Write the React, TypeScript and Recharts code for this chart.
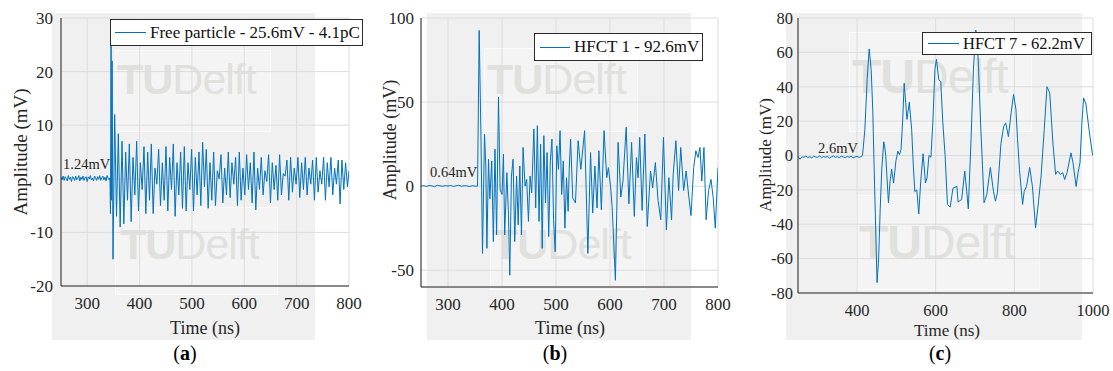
import { LineChart, Line, XAxis, YAxis, CartesianGrid } from "recharts"

// ---------- data ----------

// (a) free particle
const aXTicks = [300, 400, 500, 600, 700, 800]
const aYTicks = [-20, -10, 0, 10, 20, 30]
// background noise before the pulse, one sample every 2 ns from 250 ns
const aBaseline = [
  0.3, -0.2, 0.5, -0.3, 0.4, 0.1, -0.4, 0.6, -0.1, 0.3,
  -0.5, 0.4, 0.2, -0.3, 0.5, -0.2, 0.1, 0.6, -0.4, 0.3,
  -0.1, 0.5, -0.3, 0.2, 0.4, -0.5, 0.3, 0.0, 0.6, -0.2,
  0.1, -0.4, 0.5, 0.2, -0.3, 0.4, -0.1, 0.6, -0.3, 0.2,
  0.5, -0.2, 0.3, -0.4, 0.6, 0.1, -0.2,
]
const aOnset: [number, number][] = [
  [343.5, 0.2], [344.5, -6.5], [345.6, 25.6], [346.6, -4], [347.6, 22], [349.3, -15],
]
// ringing after the pulse, one extreme every 3.5 ns from 352.5 ns
const aRinging = [
  12, -7, 8.4, -9, 7, -8.4, 5, -4, 6.5, -8,
  4, -3, 7, -6, 3, -2, 6, -6.5, 5, -4,
  6.5, -6.5, 2, -1, 5.5, -5, 3, -4, 6, -6,
  4, -2, 6.5, -7, 3, -3, 5, -5.5, 6, -6,
  3, -2, 5.5, -6, 4, -3, 5, -5, 6.8, -1.5,
  5.5, -5.5, 3, -4, 5, -5, 1.5, 0, 4.5, -4.5,
  2, -3, 5, -3.5, 3, -1, 4, -5, 5, -4,
  2, -3, 4.5, -2, 3, -4.5, 5, -5.8, 2, -2,
  4, -3, 1.5, -0.5, 4.5, -4.5, 3, -2, 2.5, -4,
  4.5, -3, 1, 0.5, 3.5, -4, 4, -2.5, 2, -1,
  4, -3.5, 3, -2, 4, -3, 2, -1, 3.5, -4,
  4, -2.5, 1.5, -1, 4, -4, 3, -1.5, 4, -3,
  2, -1, 3.5, -4.7, 3.5, -2, 3, -1.5,
]
const aTail: [number, number][] = [[800, 1.5]]

// (b) HFCT 1
const bXTicks = [300, 400, 500, 600, 700, 800]
const bYTicks = [-50, 0, 50, 100]
// one sample every 5 ns from 250 ns
const bBaseline = [0, 0.3, -0.2, 0.4, 0.1, -0.3, 0.5, 0.2, -0.1, 0.3, 0, 0.4, -0.2, 0.2, 0.5, -0.1, 0.3, 0.1, -0.2, 0.2, 0]
const bBurst: [number, number][] = [
  [354.7, 0], [357.7, 92.6], [361, 30], [363.9, -40], [367.6, 31], [370, 12], [372, -37],
  [375, 16], [377.5, -7.5], [381, 15], [384, -33], [387, 22], [390, -29], [393.5, 53],
  [396.5, -2], [400, -5], [402.7, 19], [405, -29], [409, 8], [412, -17], [414.4, -53],
  [417.5, 6], [420.5, 16], [423.6, -33], [427, 6], [430, -23], [433, 12], [436, -29],
  [439, 23], [442.7, 0], [445.7, 4], [449, -21], [452, 6], [455, -4], [459, 34],
  [462.4, -13], [465.5, 36], [468.6, -21], [471.5, 25], [474.5, -37], [477.5, 30],
  [480.5, -10], [483.5, 20], [486.5, -30], [489.5, 15], [492.5, 28], [495.5, -20],
  [498.5, -39], [501.5, 24], [504.5, 10], [507.5, 33], [510.5, -5], [513.5, 15],
  [516.5, -25], [519.5, 5], [522.5, -15], [524.5, 10], [527, 28], [531, -7], [536, -10],
  [541, 27], [546, 10], [553, 33], [559, -40], [564, 20], [568, -16], [572, 12],
  [576, -13], [579.4, 21], [584, -14], [589, 33], [594, 5], [597, 11], [601, 0],
  [604, -12.5], [610, -56], [615, 26], [620, -6.5], [624, 3], [630, 35], [635, -10.5],
  [640, 26], [645, -18], [649, 17], [652, 5], [655, 29], [659.5, -14.5], [664.5, 31],
  [669, -24], [675, 9], [679, -1], [684, 14], [689, -8.5], [694, -20], [699, 29],
  [704.4, -26], [709, 5], [714, -20], [717, 7], [722, 27], [727, -2.6], [731, 23],
  [736.4, -2.6], [741, 9], [746, -6.5], [750, -17.5], [755, 11], [759, 21], [763, 17],
  [766.6, 23], [770, 3], [774, 23], [778, -20], [782.6, -2.6], [787, 4], [791, -6.5],
  [795, -25], [800, 11],
]

// (c) HFCT 7
const cXTicks = [400, 600, 800, 1000]
const cYTicks = [-80, -60, -40, -20, 0, 20, 40, 60, 80]
// one sample every 5 ns from 250 ns
const cBaseline = [
  -0.5, -2.2, -0.8, -1, -0.3, -1.2, -0.7, -1.4, -0.4, -0.9, -1.1,
  -0.2, -1.3, -0.6, -1, -0.5, -1.5, -0.8, -0.3, -1.1, -0.7, -1.3,
  -0.4, -0.9, -1.2, -0.6, -1, -0.3, -1.4, -0.8, -0.5, -1.1, -0.7,
]
const cBurst: [number, number][] = [
  [414, 0], [420, 15], [426, 45], [431, 62], [436, 50], [440, 27], [445, -20], [451, -74],
  [455, -60], [459, -31], [463, -8], [468, 8], [470, 6], [473, 0], [480, -27.5], [484, -15],
  [488, -8], [493, -16], [499, -3], [504, 2.5], [508, 0.5], [512, 3.5], [516, 20], [520, 42],
  [524, 30], [527, 21], [533, 31], [539, 15], [543, -5], [547, -21], [552, -20], [557, -34],
  [562, -15], [568, 1], [574, -16], [578, -13], [583, 0], [588, -1], [593, 20], [598, 50],
  [602, 56], [608, 44], [613, 43], [618, 20], [624, 0], [630, -28.5], [637, -30], [644, -19],
  [654, -18], [657, -27], [666, -25.6], [674, -9], [683, -31], [690, 10], [696, 50], [702, 73],
  [706, 65], [709, 51], [714, 20], [719, -6], [723, -27.5], [730, -22.7], [739, -7], [747, -21],
  [752, -26.6], [757, -21.7], [766, 7], [773, 17], [778, 19], [785, 11], [792, 25], [798, 35.5],
  [804, 27], [808, 10], [813, -8], [821, -28.5], [825, -21], [831, -18], [839, -7], [846, -18],
  [854, -42], [860, -30], [868, -12], [876, 15], [883, 40], [890, 36.5], [898, 7.4], [905, -11],
  [910, -9], [917, -11], [923, -10], [928, -14], [934, -10], [944, 1.5], [949, -4], [957, -18],
  [962, -10], [967, -4], [972, 20], [976, 33.5], [982, 30], [990, 15], [999, 0],
]

// ---------- build series ----------

type Pt = { t: number; v: number }

const uniform = (vals: number[], start: number, step: number): Pt[] =>
  vals.map((v, i) => ({ t: start + i * step, v }))
const pairs = (list: [number, number][]): Pt[] => list.map(([t, v]) => ({ t, v }))

const aData = [...uniform(aBaseline, 250, 2), ...pairs(aOnset), ...uniform(aRinging, 352.5, 3.5), ...pairs(aTail)]
const bData = [...uniform(bBaseline, 250, 5), ...pairs(bBurst)]
const cData = [...uniform(cBaseline, 250, 5), ...pairs(cBurst)]

// ---------- styling ----------

const SERIF = '"Liberation Serif", "Times New Roman", serif'
const SANS = '"Liberation Sans", Arial, sans-serif'
const BLUE = "#0072BD"
const INK = "#262626"

type PanelProps = {
  data: Pt[]
  left: number
  plotRight: number
  yAxisWidth: number
  xAxisHeight: number
  xDomain: [number, number]
  yDomain: [number, number]
  xTicks: number[]
  yTicks: number[]
  yTickMargin: number
  fontSize: number
}

function Panel(p: PanelProps) {
  const rightPad = 22
  return (
    <div style={{ position: "absolute", left: p.left, top: 0 }}>
      <LineChart
        width={p.plotRight - p.left + rightPad}
        height={340}
        data={p.data}
        margin={{ top: 18, right: rightPad, bottom: 0, left: 0 }}
      >
        <CartesianGrid stroke="#dcdcdc" strokeWidth={1} />
        <XAxis
          dataKey="t"
          type="number"
          domain={p.xDomain}
          ticks={p.xTicks}
          interval={0}
          allowDataOverflow
          height={p.xAxisHeight}
          tickLine={false}
          tickSize={0}
          tickMargin={11}
          axisLine={{ stroke: INK }}
          tick={{ fill: INK, fontSize: p.fontSize, fontFamily: SERIF }}
        />
        <YAxis
          type="number"
          domain={p.yDomain}
          ticks={p.yTicks}
          interval={0}
          allowDataOverflow
          width={p.yAxisWidth}
          tickLine={false}
          tickSize={0}
          tickMargin={p.yTickMargin}
          axisLine={{ stroke: INK }}
          tick={{ fill: INK, fontSize: p.fontSize, fontFamily: SERIF }}
        />
        <Line
          type="linear"
          dataKey="v"
          stroke={BLUE}
          strokeWidth={1}
          dot={false}
          isAnimationActive={false}
        />
      </LineChart>
    </div>
  )
}

function Watermark({ x, baseline, size }: { x: number; baseline: number; size: number }) {
  return (
    <div
      style={{
        position: "absolute",
        left: x,
        top: baseline - 0.85 * size,
        fontFamily: SANS,
        fontSize: size,
        lineHeight: 1,
        color: "#e0e0dc",
        whiteSpace: "nowrap",
        letterSpacing: -1,
      }}
    >
      <span style={{ fontWeight: 700 }}>TU</span>
      <span>Delft</span>
    </div>
  )
}

function LegendBox(props: {
  x: number
  y: number
  w: number
  h: number
  lineGap: number
  lineW: number
  size: number
  label: string
}) {
  return (
    <div
      style={{
        position: "absolute",
        left: props.x,
        top: props.y,
        width: props.w,
        height: props.h,
        boxSizing: "border-box",
        border: "1px solid #2b2b2b",
        background: "#ffffff",
        display: "flex",
        alignItems: "center",
        fontFamily: SERIF,
        fontSize: props.size,
        color: "#111",
        whiteSpace: "nowrap",
      }}
    >
      <div style={{ marginLeft: props.lineGap, width: props.lineW, borderTop: `1px solid ${BLUE}` }} />
      <span style={{ marginLeft: 4 }}>{props.label}</span>
    </div>
  )
}

function Txt(props: { x: number; y: number; size: number; text: string; rotate?: boolean; center?: boolean }) {
  const tf = props.rotate
    ? "translate(-50%, -50%) rotate(-90deg)"
    : props.center
      ? "translate(-50%, -50%)"
      : "translate(0, -50%)"
  return (
    <div
      style={{
        position: "absolute",
        left: props.x,
        top: props.y,
        transform: tf,
        fontFamily: SERIF,
        fontSize: props.size,
        color: INK,
        whiteSpace: "nowrap",
        lineHeight: 1,
      }}
    >
      {props.text}
    </div>
  )
}

function Caption({ x, letter }: { x: number; letter: string }) {
  return (
    <div
      style={{
        position: "absolute",
        left: x,
        top: 353,
        transform: "translate(-50%, -50%)",
        fontFamily: SERIF,
        fontSize: 20,
        color: "#000",
        lineHeight: 1,
      }}
    >
      (<b>{letter}</b>)
    </div>
  )
}

const gray = (x0: number, x1: number) => (
  <div style={{ position: "absolute", left: x0, top: 13, width: x1 - x0, height: 327, background: "#f0f0f0" }} />
)

const pale = (x0: number, y0: number, x1: number, y1: number) => (
  <div
    style={{
      position: "absolute",
      left: x0,
      top: y0,
      width: x1 - x0,
      height: y1 - y0,
      background: "rgba(255,255,255,0.25)",
      border: "1px solid rgba(255,255,255,0.6)",
      boxSizing: "border-box",
    }}
  />
)

export default function App() {
  return (
    <div style={{ position: "absolute", left: 0, top: 0, width: 1113, height: 371, background: "#fff", overflow: "hidden" }}>
      {gray(52, 315)}
      {gray(427, 691)}
      {gray(786, 1082)}

      {pale(115, 50, 271, 132)}
      {pale(115, 207, 278, 295)}
      {pale(484, 48, 638, 132)}
      {pale(490, 210, 645, 290)}
      {pale(849, 32, 1032, 132)}
      {pale(856, 195, 1040, 290)}

      <Watermark x={117} baseline={95} size={43} />
      <Watermark x={120} baseline={260} size={43} />
      <Watermark x={487} baseline={95} size={43} />
      <Watermark x={492} baseline={260} size={43} />
      <Watermark x={852} baseline={94} size={48} />
      <Watermark x={859} baseline={260} size={48} />

      <Panel
        data={aData}
        left={0}
        plotRight={349}
        yAxisWidth={61}
        xAxisHeight={54}
        xDomain={[250, 800]}
        yDomain={[-20, 30]}
        xTicks={aXTicks}
        yTicks={aYTicks}
        yTickMargin={8}
        fontSize={17}
      />
      <Panel
        data={bData}
        left={370}
        plotRight={718}
        yAxisWidth={51}
        xAxisHeight={53}
        xDomain={[250, 800]}
        yDomain={[-60, 100]}
        xTicks={bXTicks}
        yTicks={bYTicks}
        yTickMargin={7}
        fontSize={17}
      />
      <Panel
        data={cData}
        left={740}
        plotRight={1093}
        yAxisWidth={58}
        xAxisHeight={47}
        xDomain={[250, 1000]}
        yDomain={[-80, 80]}
        xTicks={cXTicks}
        yTicks={cYTicks}
        yTickMargin={5}
        fontSize={16.5}
      />

      <LegendBox x={110} y={19} w={253} h={27} lineGap={4} lineW={31} size={17} label="Free particle - 25.6mV - 4.1pC" />
      <LegendBox x={534} y={33} w={169} h={28} lineGap={5} lineW={30} size={17} label="HFCT 1 - 92.6mV" />
      <LegendBox x={922} y={32} w={170} h={23} lineGap={5} lineW={31} size={16.5} label="HFCT 7 - 62.2mV" />

      <Txt x={63} y={164} size={14.5} text="1.24mV" />
      <Txt x={430} y={172} size={14.5} text="0.64mV" />
      <Txt x={818} y={148} size={14.5} text="2.6mV" />

      <Txt x={20} y={152} size={19} text="Amplitude (mV)" rotate />
      <Txt x={390} y={140} size={18} text="Amplitude (mV)" rotate />
      <Txt x={765} y={155} size={17} text="Amplitude (mV)" rotate />

      <Txt x={205} y={328} size={18} text="Time (ns)" center />
      <Txt x={570} y={328} size={18} text="Time (ns)" center />
      <Txt x={947} y={330} size={17} text="Time (ns)" center />

      <Caption x={185} letter="a" />
      <Caption x={555} letter="b" />
      <Caption x={940} letter="c" />
    </div>
  )
}
